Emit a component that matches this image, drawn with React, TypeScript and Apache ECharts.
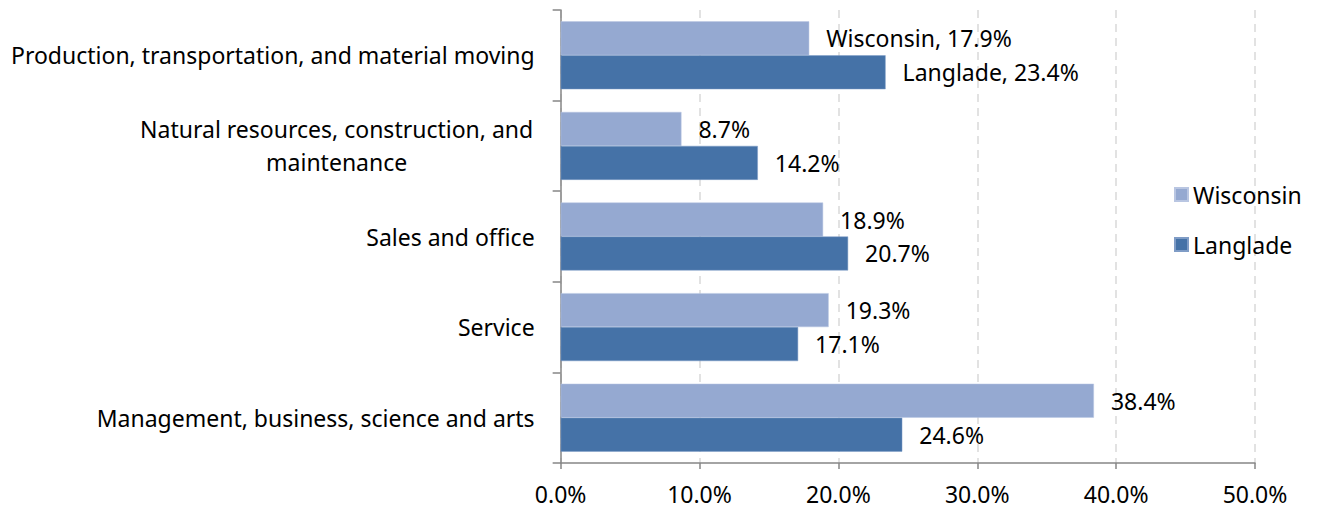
import React, { useEffect, useRef } from "react";
import * as echarts from "echarts";

// bottom-to-top order (ECharts category y axis starts at the bottom)
const categories = [
  "Management, business, science and arts",
  "Service",
  "Sales and office",
  "Natural resources, construction, and\nmaintenance",
  "Production, transportation, and material moving",
];
const wisconsin = [38.4, 19.3, 18.9, 8.7, 17.9];
const langlade = [24.6, 17.1, 20.7, 14.2, 23.4];
const xTicks = [0, 10, 20, 30, 40, 50];

const FONT = "Noto Sans";
const FS = 23;

export default function App() {
  const ref = useRef<HTMLDivElement>(null);
  useEffect(() => {
    const chart = echarts.init(ref.current!, null, { renderer: "svg" });
    const topIdx = categories.length - 1;
    const mkLabel = (name: string) => ({
      show: true,
      position: "right",
      distance: 17,
      fontFamily: FONT,
      fontSize: FS,
      color: "#000",
      formatter: (p: any) =>
        p.dataIndex === topIdx
          ? `${name}, ${p.value.toFixed(1)}%`
          : `${p.value.toFixed(1)}%`,
    });
    chart.setOption({
      animation: false,
      textStyle: { fontFamily: FONT },
      grid: { left: 549, right: 61, top: 2, bottom: 52, containLabel: false },
      legend: {
        orient: "vertical",
        left: 1161,
        top: 170,
        itemWidth: 13,
        itemHeight: 13,
        itemGap: 27,
        icon: "rect",
        data: ["Wisconsin", "Langlade"],
        textStyle: { fontFamily: FONT, fontSize: FS, color: "#000" },
      },
      xAxis: {
        type: "value",
        min: xTicks[0],
        max: xTicks[xTicks.length - 1],
        interval: 10,
        axisLine: { show: true, lineStyle: { color: "#868686", width: 1.5 } },
        axisTick: { show: true, length: 6, lineStyle: { color: "#868686", width: 1.5 } },
        axisLabel: {
          fontFamily: FONT,
          fontSize: FS,
          color: "#000",
          margin: 19,
          formatter: (v: number) => `${v.toFixed(1)}%`,
        },
        splitLine: {
          show: true,
          lineStyle: { color: "#d9d9d9", type: [8, 6], width: 1.5 },
        },
      },
      yAxis: {
        type: "category",
        data: categories,
        axisLine: { show: true, lineStyle: { color: "#868686", width: 1.5 } },
        axisTick: { show: true, length: 8, lineStyle: { color: "#868686", width: 1.5 } },
        axisLabel: {
          fontFamily: FONT,
          fontSize: FS,
          color: "#000",
          margin: 26,
          lineHeight: 33,
          formatter: (v: string) =>
            v.includes("\n")
              ? v
                  .split("\n")
                  .map((s) => `{c|${s}}`)
                  .join("\n")
              : v,
          rich: {
            c: {
              fontFamily: FONT,
              fontSize: FS,
              color: "#000",
              width: 396,
              align: "center",
              lineHeight: 33,
            },
          },
        },
      },
      series: [
        {
          name: "Wisconsin",
          type: "bar",
          data: wisconsin,
          barGap: "0%",
          barCategoryGap: "25%",
          itemStyle: { color: "#95a9d1", borderColor: "#b9c6e2", borderWidth: 0.5 },
          label: mkLabel("Wisconsin"),
        },
        {
          name: "Langlade",
          type: "bar",
          data: langlade,
          barGap: "0%",
          barCategoryGap: "25%",
          itemStyle: { color: "#4572a7", borderColor: "#7f9cc6", borderWidth: 0.5 },
          label: mkLabel("Langlade"),
        },
      ],
    });
    return () => chart.dispose();
  }, []);
  return <div ref={ref} style={{ width: 1308, height: 507 }} />;
}
